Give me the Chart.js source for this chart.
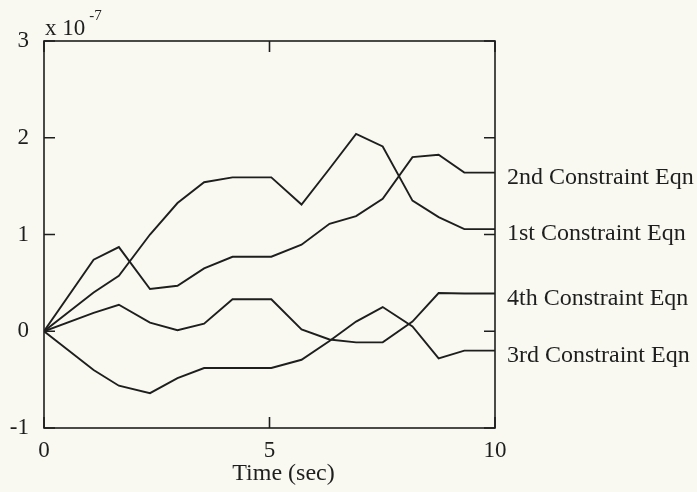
<!DOCTYPE html>
<html>
<head>
<meta charset="utf-8">
<script src="https://cdn.jsdelivr.net/npm/chart.js@4/dist/chart.umd.min.js"></script>
<style>
  html, body { margin: 0; padding: 0; background: #f9f9f1; }
  #wrap { width: 697px; height: 492px; position: relative; }
</style>
</head>
<body>
<div id="wrap"><canvas id="c" width="697" height="492"></canvas></div>
<script>
// Time samples (sec)
const times = [0, 1.1, 1.66, 2.35, 2.96, 3.55, 4.18, 5.04, 5.71, 6.33, 6.92, 7.51, 8.17, 8.75, 9.32, 10];
// Constraint equation errors (x 1e-7)
const eqn1 = [0, 0.40, 0.574, 1.00, 1.325, 1.54, 1.59, 1.59, 1.31, 1.68, 2.04, 1.91, 1.35, 1.18, 1.056, 1.056];
const eqn2 = [0, 0.74, 0.87, 0.436, 0.47, 0.65, 0.77, 0.77, 0.895, 1.11, 1.19, 1.37, 1.80, 1.825, 1.64, 1.64];
const eqn3 = [0, -0.40, -0.563, -0.64, -0.485, -0.38, -0.38, -0.38, -0.295, -0.10, 0.10, 0.25, 0.05, -0.28, -0.20, -0.20];
const eqn4 = [0, 0.19, 0.274, 0.09, 0.01, 0.078, 0.33, 0.33, 0.02, -0.085, -0.115, -0.115, 0.10, 0.395, 0.39, 0.39];
const seriesNames = ["1st Constraint Eqn", "2nd Constraint Eqn", "3rd Constraint Eqn", "4th Constraint Eqn"];
const seriesValues = [eqn1, eqn2, eqn3, eqn4];
const xTicks = [0, 5, 10];
const yTicks = [-1, 0, 1, 2, 3];
const xTitle = "Time (sec)";
const exponentBase = "x 10";
const exponentPower = "-7";

const FONT = "'Liberation Serif', 'Times New Roman', serif";
const INK = "#1e1e1e";

const datasets = seriesValues.map((vals, i) => ({
  label: seriesNames[i],
  data: times.map((t, k) => ({ x: t, y: vals[k] })),
  showLine: true,
  borderColor: INK,
  borderWidth: 1.9,
  pointRadius: 0,
  fill: false,
  tension: 0
}));

const framePlugin = {
  id: 'frame',
  afterDatasetsDraw(chart) {
    const { ctx, chartArea: a, scales } = chart;
    const xs = scales.x, ys = scales.y;
    ctx.save();
    ctx.strokeStyle = INK;
    ctx.lineWidth = 1.6;
    ctx.strokeRect(a.left, a.top, a.right - a.left, a.bottom - a.top);
    const tl = 11;
    ctx.beginPath();
    yTicks.forEach(v => {
      const y = ys.getPixelForValue(v);
      ctx.moveTo(a.left, y); ctx.lineTo(a.left + tl, y);
      ctx.moveTo(a.right, y); ctx.lineTo(a.right - tl, y);
    });
    xTicks.forEach(v => {
      const x = xs.getPixelForValue(v);
      ctx.moveTo(x, a.bottom); ctx.lineTo(x, a.bottom - tl);
      ctx.moveTo(x, a.top); ctx.lineTo(x, a.top + tl);
    });
    ctx.stroke();

    // series labels at right
    ctx.fillStyle = INK;
    ctx.font = "24px " + FONT;
    ctx.textAlign = 'left';
    ctx.textBaseline = 'middle';
    seriesValues.forEach((vals, i) => {
      const y = ys.getPixelForValue(vals[vals.length - 1]) + 5;
      ctx.fillText(seriesNames[i], a.right + 12, y);
    });

    // x title
    ctx.textAlign = 'center';
    ctx.fillText(xTitle, xs.getPixelForValue(5) + 14, 474);

    // exponent
    ctx.textAlign = 'left';
    ctx.textBaseline = 'alphabetic';
    ctx.font = "23px " + FONT;
    ctx.fillText(exponentBase, a.left + 1, a.top - 6);
    const w = ctx.measureText(exponentBase).width;
    ctx.font = "15px " + FONT;
    ctx.fillText(exponentPower, a.left + 1 + w + 4, a.top - 21);
    ctx.restore();
  }
};

new Chart(document.getElementById('c'), {
  type: 'scatter',
  data: { datasets },
  options: {
    responsive: false,
    animation: false,
    events: [],
    layout: { padding: { left: 0, top: 41, right: 202, bottom: 0 } },
    plugins: { legend: { display: false }, tooltip: { enabled: false } },
    scales: {
      x: {
        type: 'linear', min: 0, max: 10,
        grid: { display: false, drawTicks: false },
        border: { display: false },
        afterBuildTicks: s => { s.ticks = xTicks.map(v => ({ value: v })); },
        afterFit: s => { s.height = 64; },
        ticks: { color: INK, font: { family: FONT, size: 23 }, padding: 9, maxRotation: 0 }
      },
      y: {
        type: 'linear', min: -1, max: 3,
        grid: { display: false, drawTicks: false },
        border: { display: false },
        afterBuildTicks: s => { s.ticks = yTicks.map(v => ({ value: v })); },
        afterFit: s => { s.width = 44; },
        ticks: { color: INK, font: { family: FONT, size: 23 }, padding: 15 }
      }
    }
  },
  plugins: [framePlugin]
});
</script>
</body>
</html>
